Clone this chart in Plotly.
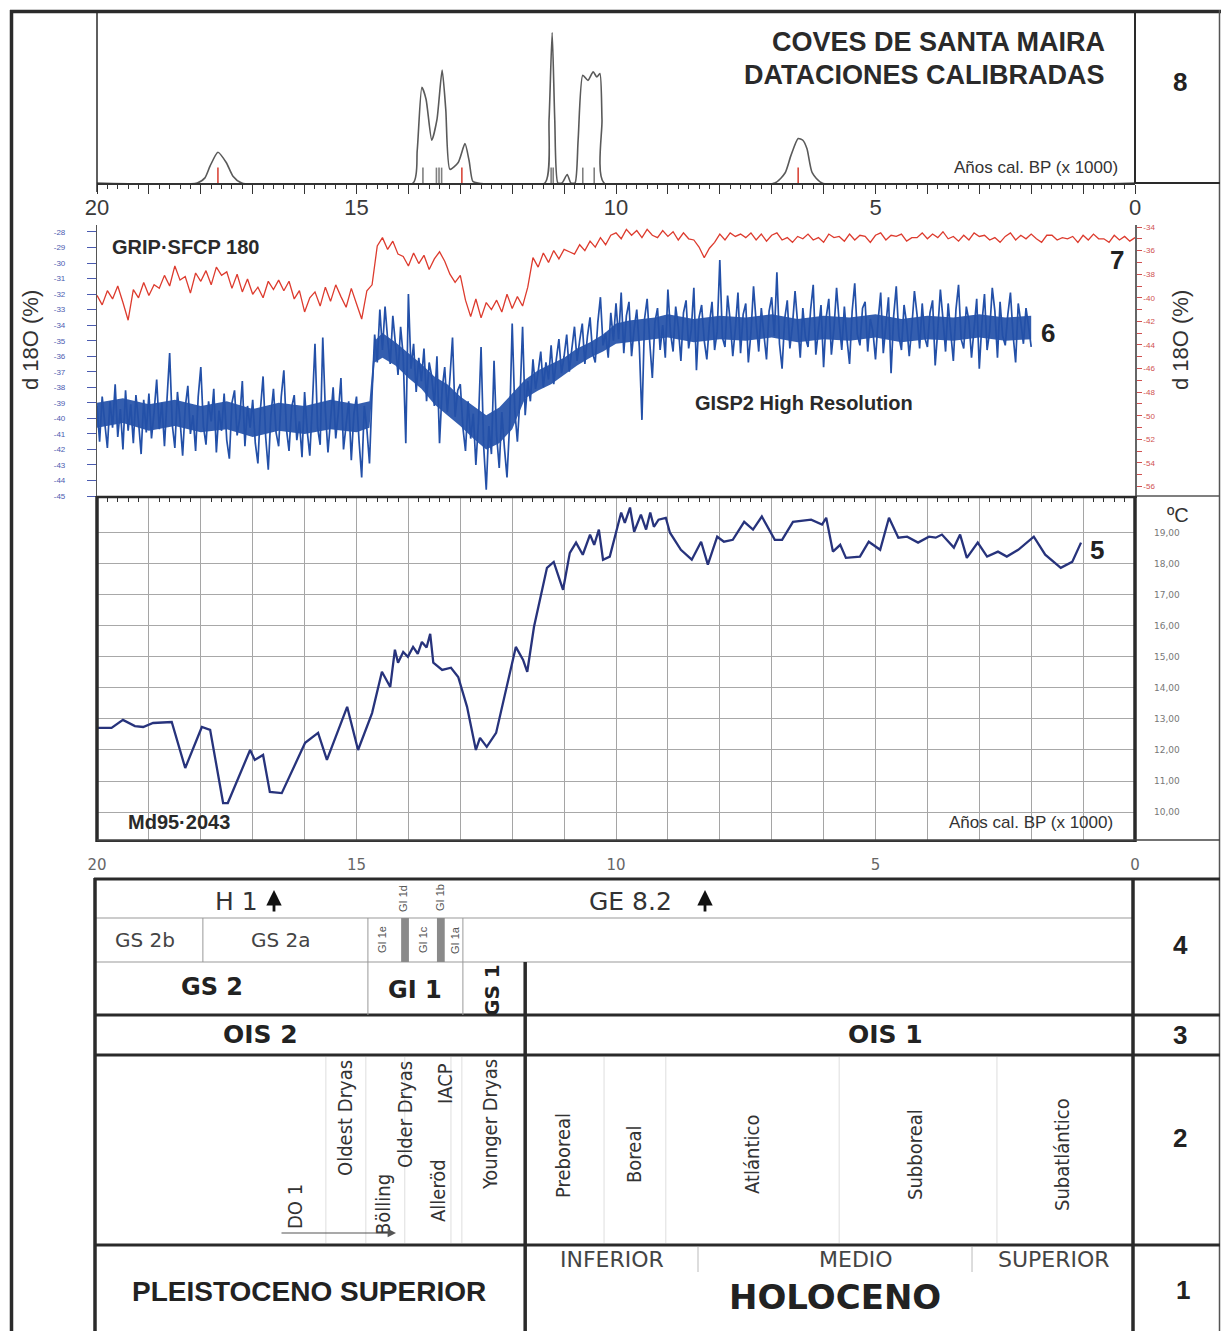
import numpy as np
import plotly.graph_objects as go

W, H = 1222, 1331
def X(p): return p / W
def Y(p): return 1 - p / H

# ---------------- data ----------------
# 8 - Coves de Santa Maira: summed calibrated probability (ka cal BP, relative probability)
cal_age = [20.0, 18.07, 17.92, 17.82, 17.67, 17.51, 17.38, 17.21,
           13.91, 13.83, 13.74, 13.66, 13.55, 13.45, 13.35, 13.28, 13.20, 13.04, 12.91, 12.83, 12.76, 12.66,
           11.37, 11.29, 11.23, 11.18, 11.12, 11.04, 10.94, 10.87,
           10.79, 10.73, 10.64, 10.54, 10.44, 10.37, 10.31, 10.27, 10.23,
           6.94, 6.74, 6.63, 6.49, 6.40, 6.32, 6.22, 6.03, 0.0]
cal_prob = [0, 0, 0.03, 0.10, 0.18, 0.12, 0.04, 0,
            0, 0.19, 0.56, 0.49, 0.25, 0.37, 0.66, 0.43, 0.08, 0.12, 0.23, 0.13, 0.01, 0,
            0, 0.37, 0.88, 0.37, 0, 0, 0.05, 0,
            0, 0.25, 0.63, 0.60, 0.65, 0.62, 0.64, 0.37, 0,
            0, 0.06, 0.16, 0.26, 0.25, 0.20, 0.06, 0, 0]
date_red = [17.67, 12.97, 6.49]
date_gray = [13.72, 13.46, 13.41, 13.36, 11.25, 11.21, 10.64, 10.42]

# 7 - GRIP d18O (right axis), every 0.1 ka from 20.0 ka
grip_start, grip_step = 20.0, 0.1
grip_d18o = [
    -39.8, -40.6, -39.4, -40.1, -39.0, -40.4, -41.9, -39.3, -40.0, -38.7,
    -39.8, -38.9, -39.2, -38.1, -39.0, -37.3, -38.5, -38.2, -39.6, -37.9,
    -38.6, -37.7, -38.9, -37.4, -38.1, -37.8, -39.2, -38.0, -39.5, -38.4,
    -39.7, -39.1, -40.0, -38.6, -39.3, -38.5, -39.4, -38.6, -40.1, -39.4,
    -41.2, -40.0, -39.5, -40.7, -39.1, -40.3, -38.9, -39.9, -40.8, -39.2,
    -40.5, -41.8, -39.4, -38.9, -35.6, -34.9, -35.9, -35.2, -36.3, -36.5,
    -37.3, -36.2, -37.1, -36.4, -37.6, -36.7, -36.1, -36.9, -38.0, -38.7,
    -38.1, -40.2, -41.6, -40.1, -41.7, -40.4, -41.0, -40.2, -41.2, -39.7,
    -40.9, -39.9, -40.7, -39.1, -36.6, -37.4, -36.2, -37.0, -36.0, -36.7,
    -35.9, -36.1, -36.3, -35.5, -36.0, -35.2, -35.7, -34.9, -35.5, -34.7,
    -34.5, -35.0, -34.2, -34.7, -34.3, -34.9, -34.2, -34.7, -34.9, -34.3,
    -34.8, -34.4, -35.1, -34.5, -35.0, -35.1, -35.7, -36.6, -35.8, -35.3,
    -34.6, -35.1, -34.5, -34.8, -34.6, -34.9, -34.5, -35.1, -34.6, -35.2,
    -34.7, -34.5, -35.1, -34.9, -35.3, -34.8, -35.0, -34.6, -35.1, -34.9,
    -35.3, -34.6, -34.9, -34.8, -35.2, -34.6, -35.1, -34.7, -34.8, -35.3,
    -34.7, -34.5, -35.1, -34.7, -34.8, -34.6, -35.2, -34.9, -34.9, -34.5,
    -35.0, -34.6, -34.9, -34.4, -35.0, -34.8, -35.2, -34.7, -35.1, -34.5,
    -34.8, -34.7, -35.1, -34.9, -35.3, -34.8, -34.5, -35.1, -34.7, -35.0,
    -34.6, -35.0, -35.3, -34.7, -34.7, -35.1, -34.9, -35.0, -34.8, -35.3,
    -34.7, -35.1, -34.6, -35.0, -35.0, -35.3, -34.7, -35.1, -34.8, -35.2,
    -34.9]

# 6 - GISP2 high resolution d18O (left axis), every 0.05 ka from 20.00 ka
gisp2_start, gisp2_step = 20.0, 0.05
gisp2_d18o = [
    -39.2, -41.5, -38.6, -40.3, -41.9, -38.9, -40.6, -37.8, -41.2, -39.4, -42.0, -38.2, -40.8, -39.1, -41.6, -38.5, -40.2, -42.3, -38.8, -40.9,
    -38.4, -41.3, -39.6, -37.5, -40.7, -39.0, -41.8, -38.7, -35.8, -40.4, -41.9, -38.3, -40.1, -42.4, -39.3, -37.9, -41.0, -39.8, -42.1, -38.6,
    -36.7, -40.5, -41.7, -38.9, -40.2, -38.1, -42.2, -39.5, -40.8, -38.4, -41.4, -42.6, -39.0, -38.2, -41.1, -40.0, -37.6, -41.8, -39.2, -40.6,
    -38.8, -41.6, -42.9, -39.4, -37.3, -41.2, -43.3, -39.8, -38.1, -40.9, -41.8, -38.6, -36.9, -40.7, -42.1, -39.3, -38.5, -41.4, -40.2, -42.5,
    -38.3, -40.8, -42.4, -39.1, -35.2, -40.6, -41.7, -34.8, -39.5, -42.2, -40.1, -38.0, -41.3, -39.6, -37.4, -42.0, -40.4, -38.9, -42.7, -39.7,
    -38.6, -41.5, -43.8, -39.2, -40.7, -42.9, -38.4, -34.6, -36.4, -33.0, -35.6, -32.8, -34.9, -36.5, -33.4, -35.2, -37.2, -34.1, -36.0, -41.6,
    -32.0, -36.8, -35.2, -38.3, -36.1, -37.6, -35.5, -38.9, -36.4, -37.3, -39.2, -36.0, -41.6, -38.1, -36.7, -39.6, -37.4, -34.8, -39.9, -38.2,
    -37.8, -40.6, -42.1, -38.9, -41.3, -39.7, -43.0, -40.2, -35.4, -41.8, -44.6, -40.5, -42.3, -36.3, -41.1, -43.2, -39.6, -41.9, -43.8, -40.4,
    -33.9, -39.5, -41.5, -38.7, -34.1, -39.8, -37.6, -38.9, -36.2, -38.1, -37.0, -35.7, -38.0, -36.4, -37.5, -35.3, -37.8, -36.2, -34.9, -37.1,
    -36.0, -34.6, -37.0, -35.5, -34.1, -36.3, -35.0, -33.9, -36.5, -34.7, -33.5, -35.8, -36.4, -33.8, -32.2, -35.3, -34.5, -36.1, -33.2, -35.0,
    -32.6, -34.9, -31.9, -35.8, -33.4, -32.5, -36.0, -34.2, -33.0, -35.4, -40.1, -33.6, -32.3, -35.1, -37.4, -33.8, -32.9, -35.6, -34.0, -36.1,
    -31.7, -34.5, -35.7, -32.8, -34.1, -36.3, -33.2, -32.4, -35.5, -34.3, -31.6, -36.9, -33.5, -32.7, -35.0, -36.2, -33.9, -32.5, -35.6, -34.4,
    -29.8, -34.8, -35.4, -32.1, -33.7, -36.0, -34.2, -31.9, -35.8, -33.3, -32.6, -36.4, -34.5, -31.5, -33.8, -35.7, -32.9, -34.6, -36.2, -33.1,
    -32.2, -34.7, -30.6, -35.2, -36.8, -33.6, -32.4, -35.5, -34.0, -31.8, -33.9, -36.1, -32.9, -34.8, -35.4, -33.0, -31.4, -35.9, -34.3, -32.7,
    -36.7, -33.5, -32.3, -35.9, -34.2, -31.6, -33.8, -35.6, -32.8, -34.9, -36.5, -33.1, -31.3, -34.6, -35.3, -32.9, -32.5, -35.7, -33.6, -34.4,
    -36.2, -33.7, -31.9, -35.8, -34.0, -32.2, -37.1, -33.4, -31.5, -34.7, -35.6, -32.7, -33.9, -36.0, -34.1, -31.8, -33.3, -35.5, -32.6, -34.8,
    -35.4, -33.2, -32.4, -36.6, -34.3, -31.7, -33.6, -35.7, -32.6, -34.5, -36.3, -33.0, -31.4, -34.9, -35.5, -32.8, -33.7, -36.1, -34.2, -32.3,
    -36.8, -33.9, -32.0, -35.6, -34.4, -31.6, -33.1, -36.1, -32.5, -34.7, -35.3, -33.3, -31.9, -34.6, -36.4, -32.6, -33.8, -35.2, -32.9, -34.1,
    -35.4]
# GISP2 dense core of the signal (upper / lower envelope)
gisp2_core_age = [20.0, 19.5, 19.0, 18.5, 18.0, 17.5, 17.0, 16.5, 16.0, 15.5,
                  15.0, 14.75, 14.65, 14.5, 14.25, 14.0, 13.75, 13.5, 13.25, 13.0,
                  12.75, 12.5, 12.25, 12.0, 11.75, 11.5, 11.25, 11.0, 10.75, 10.5,
                  10.25, 10.0, 9.75, 9.5, 9.25, 9.0, 8.5, 8.0, 7.5, 7.0,
                  6.5, 6.0, 5.5, 5.0, 4.5, 4.0, 3.5, 3.0, 2.5, 2.0]
gisp2_core_hi = [-39.0, -38.7, -39.1, -38.8, -39.2, -38.9, -39.4, -39.0, -39.2, -38.8,
                 -39.1, -38.9, -35.0, -34.5, -35.1, -35.8, -36.5, -37.3, -37.8, -38.6,
                 -39.2, -39.8, -39.3, -38.4, -37.5, -36.9, -36.5, -36.1, -35.5, -35.1,
                 -34.6, -33.9, -33.7, -33.6, -33.5, -33.3, -33.6, -33.4, -33.5, -33.3,
                 -33.6, -33.4, -33.5, -33.3, -33.6, -33.4, -33.5, -33.3, -33.5, -33.4]
gisp2_core_lo = [-40.6, -40.3, -40.8, -40.5, -40.9, -40.7, -41.2, -40.8, -41.0, -40.7,
                 -40.9, -40.6, -36.4, -36.1, -36.6, -37.4, -38.1, -39.1, -39.8, -40.5,
                 -41.3, -42.0, -41.6, -40.7, -38.7, -38.2, -37.8, -37.2, -36.6, -36.1,
                 -35.7, -35.2, -35.1, -35.0, -34.9, -34.8, -35.1, -34.9, -35.0, -34.8,
                 -35.1, -34.9, -35.0, -34.8, -35.1, -34.9, -35.0, -34.8, -35.0, -34.9]

# 5 - Md95-2043 alkenone SST (deg C)
md_age = [20.0, 19.72, 19.5, 19.27, 19.11, 18.92, 18.56, 18.3, 17.98, 17.82, 17.57, 17.48, 17.05, 16.96,
          16.8, 16.67, 16.44, 15.99, 15.74, 15.57, 15.18, 14.97, 14.7, 14.51, 14.35, 14.26, 14.2, 14.1,
          14.01, 13.91, 13.82, 13.74, 13.65, 13.58, 13.52, 13.35, 13.18, 13.04, 12.87, 12.7, 12.62, 12.49,
          12.31, 12.1, 11.93, 11.79, 11.71, 11.58, 11.33, 11.2, 11.02, 10.89, 10.77, 10.64, 10.5, 10.42,
          10.33, 10.25, 10.12, 9.9, 9.83, 9.73, 9.65, 9.52, 9.42, 9.34, 9.27, 9.18, 9.04, 8.96, 8.75,
          8.54, 8.36, 8.23, 8.05, 7.92, 7.75, 7.53, 7.36, 7.19, 6.94, 6.8, 6.59, 6.24, 6.03, 5.95, 5.82,
          5.68, 5.57, 5.3, 5.13, 4.91, 4.74, 4.56, 4.39, 4.18, 3.97, 3.84, 3.72, 3.49, 3.37, 3.24, 3.03,
          2.85, 2.64, 2.47, 2.25, 1.95, 1.73, 1.43, 1.21, 1.04]
md_sst = [12.71, 12.71, 12.97, 12.77, 12.74, 12.87, 12.9, 11.42, 12.74, 12.65, 10.29, 10.29, 12.0, 11.68,
          11.84, 10.65, 10.61, 12.23, 12.55, 11.68, 13.39, 12.0, 13.19, 14.52, 14.03, 15.23, 14.81, 15.16,
          15.0, 15.32, 15.1, 15.48, 15.3, 15.74, 14.81, 14.58, 14.65, 14.35, 13.39, 12.0, 12.39, 12.1,
          12.55, 14.03, 15.32, 14.9, 14.52, 15.97, 17.87, 18.06, 17.16, 18.35, 18.68, 18.29, 18.94, 18.61,
          19.1, 18.13, 18.23, 19.65, 19.32, 19.81, 19.03, 19.58, 19.1, 19.65, 19.19, 19.42, 19.48, 19.0, 18.45,
          18.13, 18.71, 17.97, 18.87, 18.71, 18.77, 19.35, 19.1, 19.52, 18.77, 18.77, 19.35, 19.42, 19.26, 19.48, 18.39,
          18.61, 18.19, 18.23, 18.71, 18.45, 19.48, 18.84, 18.87, 18.68, 18.87, 18.84, 18.94, 18.52, 18.94, 18.19, 18.68,
          18.23, 18.39, 18.23, 18.45, 18.87, 18.29, 17.87, 18.06, 18.68]

# axis tick values
year_ticks = list(range(20, -1, -1))
year_labels = [str(v) if v % 5 == 0 else '' for v in year_ticks]
gisp2_ticks = list(range(-28, -46, -1))
grip_ticks = list(range(-34, -57, -1))
sst_ticks = list(range(10, 20))

# chronology boundaries (ka cal BP)
gs2b_gs2a = [17.96]
gs_gi_bounds = [14.78, 12.95]
holocene_start = 11.75
gi_bars = [(14.14, 13.99), (13.45, 13.30)]
chrono_lines = [15.59, 14.82, 14.07, 13.18, 12.97, 10.23, 9.04, 5.70, 2.66]
holocene_sub = [8.42, 3.14]

# ---------------- figure ----------------
grip_age = np.round(grip_start - grip_step * np.arange(len(grip_d18o)), 2)
gisp2_age = np.round(gisp2_start - gisp2_step * np.arange(len(gisp2_d18o)), 2)

BLUE = '#2350a8'
RED = '#dd3b2e'
NAVY = '#27337c'
DARK = '#2a2a2a'

fig = go.Figure()
fig.add_trace(go.Scatter(x=cal_age, y=cal_prob, mode='lines', line=dict(color='#5a5a5a', width=1.6, shape='spline', smoothing=0.6),
                         xaxis='x', yaxis='y', hoverinfo='skip'))
for dates, col in ((date_gray, '#808080'), (date_red, '#d9473a')):
    xs, ys = [], []
    for d in dates:
        xs += [d, d, None]
        ys += [0, 0.09, None]
    fig.add_trace(go.Scatter(x=xs, y=ys, mode='lines', line=dict(color=col, width=1.6), xaxis='x', yaxis='y', hoverinfo='skip'))

fig.add_trace(go.Scatter(x=gisp2_core_age, y=gisp2_core_hi, mode='lines', line=dict(width=0, color=BLUE),
                         xaxis='x2', yaxis='y2', hoverinfo='skip'))
fig.add_trace(go.Scatter(x=gisp2_core_age, y=gisp2_core_lo, mode='lines', line=dict(width=0, color=BLUE), fill='tonexty',
                         fillcolor='rgba(35,80,168,0.92)', xaxis='x2', yaxis='y2', hoverinfo='skip'))
fig.add_trace(go.Scatter(x=gisp2_age, y=gisp2_d18o, mode='lines', line=dict(color=BLUE, width=1.7, simplify=False),
                         xaxis='x2', yaxis='y2', hoverinfo='skip'))
fig.add_trace(go.Scatter(x=grip_age, y=grip_d18o, mode='lines', line=dict(color=RED, width=1.3, simplify=False),
                         xaxis='x2', yaxis='y3', hoverinfo='skip'))
fig.add_trace(go.Scatter(x=md_age, y=md_sst, mode='lines', line=dict(color=NAVY, width=2.3), xaxis='x3', yaxis='y4', hoverinfo='skip'))

XD = [X(97), X(1135)]
FONT = 'Liberation Sans, Arial, sans-serif'
WIDE = 'DejaVu Sans, Verdana, sans-serif'
NARROW = 'Liberation Sans Narrow, DejaVu Sans Condensed, Liberation Sans, Arial, sans-serif'

layout = dict(
    width=W, height=H, margin=dict(l=0, r=0, t=0, b=0, autoexpand=False),
    paper_bgcolor='white', plot_bgcolor='rgba(0,0,0,0)', showlegend=False,
    xaxis=dict(domain=XD, range=[20, 0], anchor='y', showgrid=False, zeroline=False, showline=True,
               linecolor='#333', linewidth=1.5, ticks='outside', tickmode='array', tickvals=year_ticks,
               ticktext=year_labels, ticklen=9, tickwidth=1.2, tickcolor='#333', ticklabelstandoff=-5,
               minor=dict(tick0=0, dtick=0.2, ticks='outside', ticklen=4, tickcolor='#333', tickwidth=1),
               tickfont=dict(size=22, color='#3a3a3a', family=FONT)),
    yaxis=dict(domain=[Y(183), Y(12)], range=[0, 1], visible=False),
    xaxis2=dict(domain=XD, range=[20, 0], anchor='y2', showgrid=False, zeroline=False, showline=True,
                linecolor='#333', linewidth=1.5, ticks='outside', dtick=1, tick0=0, ticklen=7, tickcolor='#333',
                minor=dict(tick0=0, dtick=0.2, ticks='outside', ticklen=4, tickcolor='#333'),
                showticklabels=False),
    yaxis2=dict(domain=[Y(496), Y(225)], range=[-45, -27.55], anchor='x2', showgrid=False, zeroline=False,
                showline=True, linecolor='#555', linewidth=1.2, ticks='outside', ticklen=9, tickcolor='#4b5bb0',
                tickmode='array', tickvals=gisp2_ticks, ticktext=[str(v) for v in gisp2_ticks],
                tickfont=dict(size=8, color='#4b5bb0', family=FONT), ticklabelstandoff=20),
    yaxis3=dict(domain=[Y(496), Y(225)], range=[-56.8, -33.83], overlaying='y2', side='right', anchor='x2',
                showgrid=False, zeroline=False, showline=True, linecolor='#666', linewidth=1.5,
                ticks='outside', ticklen=5, tickcolor='#d05050', tickmode='array', tickvals=grip_ticks,
                ticktext=[str(v) if v % 2 == 0 else '' for v in grip_ticks],
                tickfont=dict(size=8, color='#d05050', family=FONT)),
    xaxis3=dict(domain=XD, range=[20, 0], anchor='y4', showgrid=True, gridcolor='#a5a5a5', gridwidth=1.3,
                zeroline=False, showline=True, linecolor='#333', linewidth=2, ticks='', tickmode='array',
                tickvals=year_ticks, ticktext=year_labels, ticklabelstandoff=10,
                tickfont=dict(size=15, color='#666', family=WIDE)),
    yaxis4=dict(domain=[Y(840), Y(497)], range=[9.1, 20.15], anchor='x3', side='right', showgrid=True,
                gridcolor='#a8a8a8', gridwidth=1.3, zeroline=False, showline=False, ticks='',
                tickmode='array', tickvals=sst_ticks, ticktext=[f'{v},00' for v in sst_ticks],
                tickfont=dict(size=9, color='#777', family=WIDE), ticklabelstandoff=18),
)

shapes = []
def hline(y, x0, x1, w=3, c=DARK):
    shapes.append(dict(type='line', xref='paper', yref='paper', x0=X(x0), x1=X(x1), y0=Y(y), y1=Y(y),
                       line=dict(color=c, width=w)))
def vline(x, y0, y1, w=3, c=DARK):
    shapes.append(dict(type='line', xref='paper', yref='paper', x0=X(x), x1=X(x), y0=Y(y0), y1=Y(y1),
                       line=dict(color=c, width=w)))
def vline_age(a, y0, y1, w=1, c='#999'):
    shapes.append(dict(type='line', xref='x3', yref='paper', x0=a, x1=a, y0=Y(y0), y1=Y(y1),
                       line=dict(color=c, width=w)))

# outer frame
vline(11.5, 10, 1335, 3.5)
hline(11.5, 10, 1221, 3.5)
vline(1219.5, 10, 1335, 1.5, '#555')
# panel 8 box
vline(1135, 10, 183, 2)
hline(183, 1135, 1220, 2)
vline(97, 12, 192, 1.5)
# panel 6/7 right column bottom
hline(496, 1135, 1220, 1.5, '#555')
# panel 5 box
hline(497, 97, 1135, 2.5)
vline(97, 496, 842, 3.5)
vline(1135, 496, 842, 3.5)
hline(840, 97, 1220, 1.5, '#444')
# table
hline(879, 94, 1220, 3)
hline(918, 95, 1133, 1, '#999')
hline(962, 95, 1133, 1, '#999')
for yy in (1015, 1055, 1245):
    hline(yy, 94, 1220, 3)
vline(95, 878, 1335, 3.5)
vline(1133, 878, 1335, 3.5)
vline_age(holocene_start, 962, 1335, 3.5, DARK)
for a in gs2b_gs2a:
    vline_age(a, 918, 962)
for a in gs_gi_bounds:
    vline_age(a, 918, 1015)
for a0, a1 in gi_bars:
    shapes.append(dict(type='rect', xref='x3', yref='paper', x0=a0, x1=a1, y0=Y(962), y1=Y(918),
                       fillcolor='#8a8a8a', line=dict(width=0)))
for a in chrono_lines:
    vline_age(a, 1057, 1243, 1, '#dedede')
for a in holocene_sub:
    vline_age(a, 1247, 1272, 1, '#bbbbbb')
layout['shapes'] = shapes

ann = []
def txt(s, x, y, size, color='#222', family=FONT, angle=0, xanchor='center', bold=False):
    if bold:
        s = f'<b>{s}</b>'
    ann.append(dict(text=s, x=X(x), y=Y(y), xref='paper', yref='paper', showarrow=False,
                    font=dict(size=size, color=color, family=family), textangle=angle,
                    xanchor=xanchor, yanchor='middle'))

# panel 8
txt('COVES DE SANTA MAIRA', 1107, 42, 27, '#2a2a2a', bold=True, xanchor='right')
txt('DATACIONES CALIBRADAS', 1107, 75, 27, '#2a2a2a', bold=True, xanchor='right')
txt('Años cal. BP (x 1000)', 1120, 167, 17, '#333', xanchor='right')
# panel 6/7
txt('GRIP·SFCP 180', 110, 247, 20, '#2a2a2a', bold=True, xanchor='left')
txt('GISP2 High Resolution', 693, 403, 20, '#2a2a2a', bold=True, xanchor='left')
txt('d 18O (%)', 30, 340, 22, '#333', angle=-90)
txt('d 18O (%)', 1180, 340, 22, '#333', angle=-90)
# panel 5
txt('Md95·2043', 126, 822, 20, '#2a2a2a', bold=True, xanchor='left')
txt('Años cal. BP (x 1000)', 1115, 822, 17, '#333', xanchor='right')
txt('ºC', 1178, 515, 20, '#333')
# series numbers
txt('8', 1180, 82, 26, '#222', bold=True)
txt('7', 1117, 260, 26, '#222', bold=True)
txt('6', 1048, 333, 26, '#222', bold=True)
txt('5', 1097, 550, 26, '#222', bold=True)
txt('4', 1180, 945, 26, '#222', bold=True)
txt('3', 1180, 1035, 26, '#222', bold=True)
txt('2', 1180, 1138, 26, '#222', bold=True)
txt('1', 1183, 1290, 26, '#222', bold=True)
# row 4
txt('H 1', 236, 901, 25, '#333', WIDE)
txt('GE 8.2', 630, 901, 25, '#333', WIDE)
txt('GS 2b', 145, 940, 20, '#444', WIDE)
txt('GS 2a', 281, 940, 20, '#444', WIDE)
for s, x, y in (('GI 1e', 382, 940), ('GI 1d', 403, 898), ('GI 1c', 423, 940), ('GI 1b', 440, 898), ('GI 1a', 455, 940)):
    txt(s, x, y, 11, '#555', FONT, angle=-90)
txt('GS 2', 212, 987, 24, '#222', WIDE, bold=True)
txt('GI 1', 415, 990, 24, '#222', WIDE, bold=True)
txt('GS 1', 492, 990, 20, '#222', WIDE, angle=-90, bold=True)
# row 3
txt('OIS 2', 260, 1034, 25, '#222', WIDE, bold=True)
txt('OIS 1', 885, 1034, 25, '#222', WIDE, bold=True)
# row 2
for s, x, y in (('DO 1', 295, 1207), ('Oldest Dryas', 345, 1118), ('Bölling', 383, 1205), ('Older Dryas', 405, 1115),
                ('Alleröd', 438, 1190), ('IACP', 445, 1083), ('Younger Dryas', 490, 1125),
                ('Preboreal', 563, 1156), ('Boreal', 634, 1155), ('Atlántico', 752, 1155),
                ('Subboreal', 915, 1155), ('Subatlántico', 1062, 1155)):
    txt(s, x, y, 20, '#333', NARROW, angle=-90)
# row 1
txt('PLEISTOCENO SUPERIOR', 309, 1291, 28, '#222', bold=True)
txt('INFERIOR', 612, 1259, 22, '#444', WIDE)
txt('MEDIO', 856, 1259, 22, '#444', WIDE)
txt('SUPERIOR', 1054, 1259, 22, '#444', WIDE)
txt('HOLOCENO', 835, 1297, 34, '#222', WIDE, bold=True)

# arrows
ann.append(dict(x=X(396), y=Y(1233), xref='paper', yref='paper', ax=-116, ay=0,
                text='', showarrow=True, arrowhead=2, arrowsize=1.4, arrowwidth=1.2, arrowcolor='#555'))
for xa in (274, 705):
    ann.append(dict(x=X(xa), y=Y(890), xref='paper', yref='paper', ax=0, ay=23,
                    text='', showarrow=True, arrowhead=2, arrowsize=1.1, arrowwidth=2.8, arrowcolor='#111'))
layout['annotations'] = ann

fig.update_layout(**layout)
fig.write_html('out.html', include_plotlyjs=True, config={'displayModeBar': False},
               post_script="document.body.style.margin='0';document.body.style.padding='0';")
